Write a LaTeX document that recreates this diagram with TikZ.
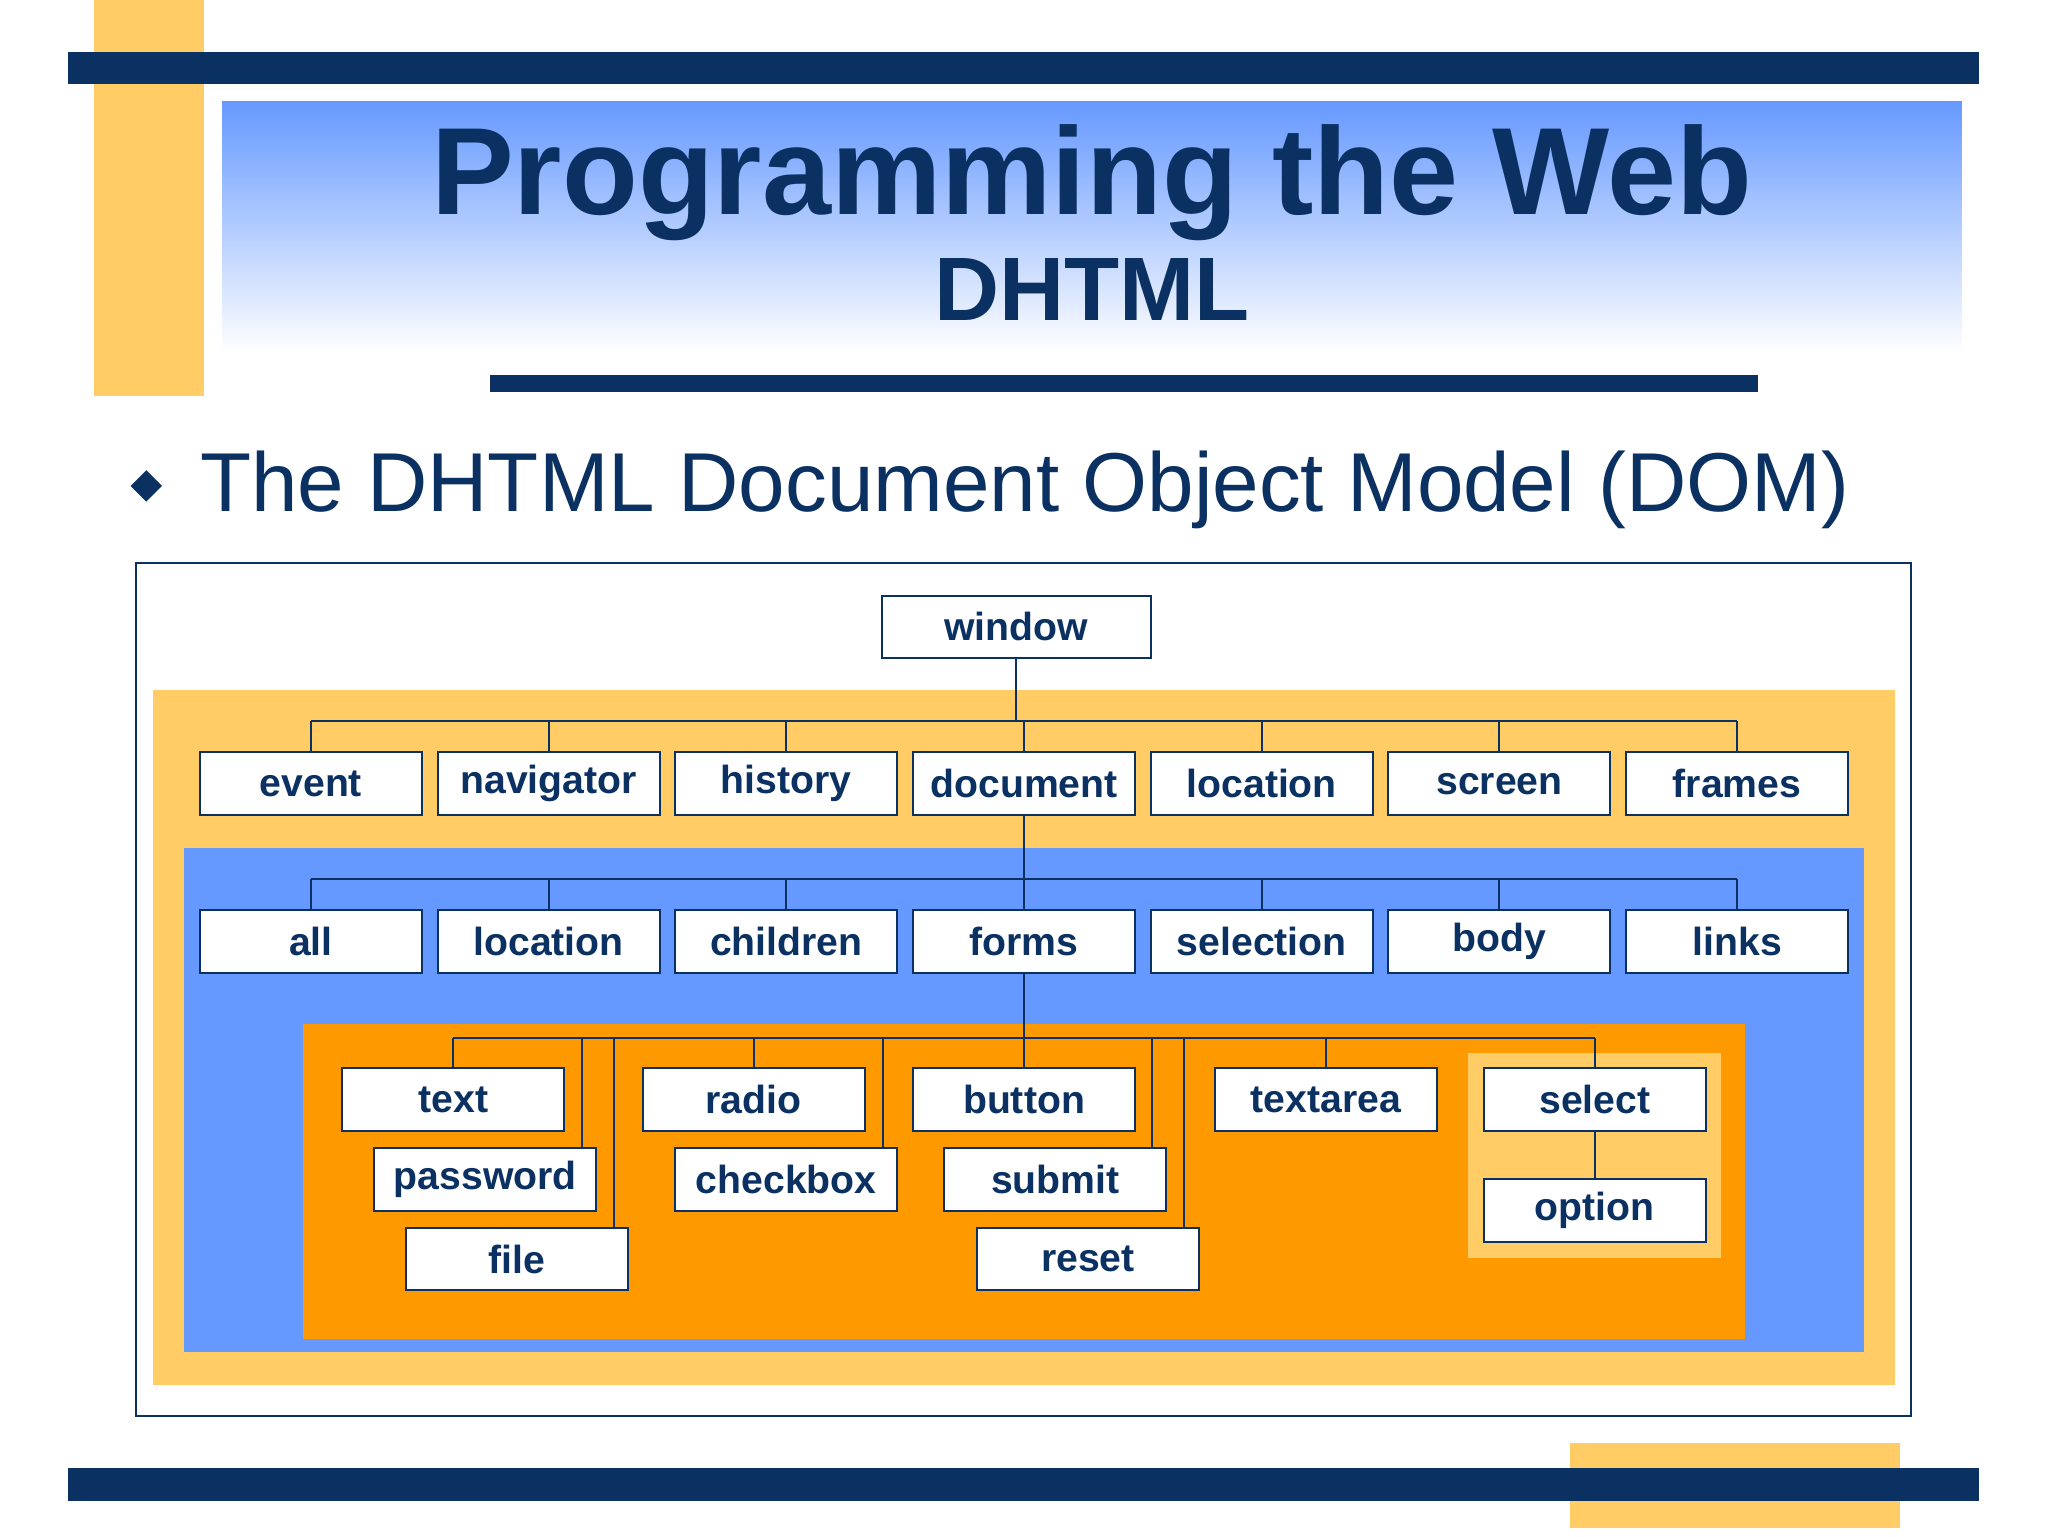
\documentclass[tikz,border=0pt]{standalone}
\usepackage{fontspec}
\setmainfont{Liberation Sans}
\definecolor{navy}{HTML}{0A3161}
\definecolor{ltor}{HTML}{FFCC66}
\definecolor{blu}{HTML}{6699FF}
\definecolor{org}{HTML}{FF9900}
\begin{document}
\begin{tikzpicture}[x=1pt,y=-1pt,
  box/.style={draw=navy,line width=1.5pt,fill=white,minimum width=170pt,minimum height=48pt,inner sep=0pt,font=\fontsize{30}{32}\selectfont\bfseries,text=navy},
  con/.style={draw=navy,line width=1.5pt}]
\useasboundingbox (0,0) rectangle (1568,1176);
\fill[white] (0,0) rectangle (1568,1176);
% header
\fill[ltor] (72,0) rectangle (156,303);
\fill[navy] (52,40) rectangle (1515,64);
\shade[top color=blu,bottom color=white] (170,78) rectangle (1502,270);
\fill[navy] (375,287) rectangle (1346,300);
\node[text=navy,font=\fontsize{95}{100}\selectfont\bfseries] (title) at (836,140) {Programming the Web};
\node[text=navy,font=\fontsize{69}{72}\selectfont\bfseries] (sub) at (836,222) {DHTML};
\fill[navy] (112,360) -- (124,372) -- (112,384) -- (100,372) -- cycle;
\node[text=navy,anchor=west,inner sep=0pt,font=\fontsize{64}{66}\selectfont] (bul) at (153,375) {The DHTML Document Object Model (DOM)};
% footer
\fill[ltor] (1202,1105) rectangle (1455,1170);
\fill[navy] (52,1124) rectangle (1515,1149);
% frame
\draw[navy,line width=1.2pt,fill=white] (104,431) rectangle (1463,1084);
\fill[ltor] (117,528) rectangle (1451,1060);
\fill[blu] (141,649) rectangle (1427,1035);
\fill[org] (232,784) rectangle (1336,1025);
\fill[ltor] (1124,806) rectangle (1318,963);
% nodes
\node[box,minimum width=206pt] (window) at (778,480) {window};
\foreach \n/\t [count=\i from 0] in {event/event,navigator/navigator,history/history,document/document,location/location,screen/screen,frames/frames}
  \node[box] (\n) at (238+182*\i,600) {\t};
\foreach \n/\t [count=\i from 0] in {all/all,dloc/location,children/children,forms/forms,selection/selection,body/body,links/links}
  \node[box] (\n) at (238+182*\i,721) {\t};
\node[box] (text) at (347,842) {text};
\node[box] (password) at (371.5,903) {password};
\node[box] (file) at (396,964) {file};
\node[box] (radio) at (577,842) {radio};
\node[box] (checkbox) at (602,903) {checkbox};
\node[box] (button) at (784,842) {button};
\node[box] (submit) at (808,903) {submit};
\node[box] (reset) at (833,964) {reset};
\node[box] (textarea) at (1015,842) {textarea};
\node[box] (select) at (1221,842) {select};
\node[box] (option) at (1221,927) {option};
% connectors level 1
\coordinate (b1) at (784,552);
\draw[con] (window.south) -- (window.south |- b1);
\draw[con] (event.north |- b1) -- (frames.north |- b1);
\foreach \n in {event,navigator,history,document,location,screen,frames}
  \draw[con] (\n.north |- b1) -- (\n.north);
% level 2
\coordinate (b2) at (784,673);
\draw[con] (document.south) -- (forms.north);
\draw[con] (all.north |- b2) -- (links.north |- b2);
\foreach \n in {all,dloc,children,selection,body,links}
  \draw[con] (\n.north |- b2) -- (\n.north);
% level 3
\coordinate (b3) at (784,795);
\draw[con] (forms.south) -- (button.north);
\draw[con] (text.north |- b3) -- (select.north |- b3);
\foreach \n in {text,radio,textarea,select}
  \draw[con] (\n.north |- b3) -- (\n.north);
\draw[con] ([xshift=-12pt]password.north east |- b3) -- ([xshift=-12pt]password.north east);
\draw[con] ([xshift=-12pt]file.north east |- b3) -- ([xshift=-12pt]file.north east);
\draw[con] ([xshift=-12pt]checkbox.north east |- b3) -- ([xshift=-12pt]checkbox.north east);
\draw[con] ([xshift=-12pt]submit.north east |- b3) -- ([xshift=-12pt]submit.north east);
\draw[con] ([xshift=-12pt]reset.north east |- b3) -- ([xshift=-12pt]reset.north east);
\draw[con] (select.south) -- (option.north);
\end{tikzpicture}
\end{document}
